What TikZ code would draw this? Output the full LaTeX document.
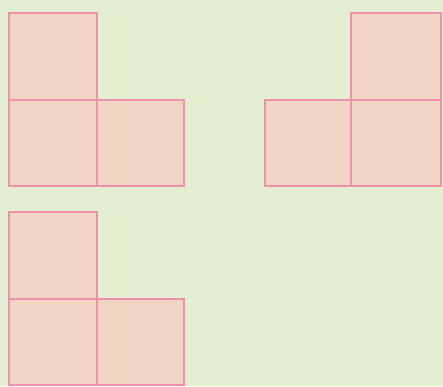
\documentclass[tikz,border=0pt]{standalone}
\definecolor{bgc}{RGB}{228,238,208}
\definecolor{tilefill}{RGB}{240,214,194}
\definecolor{tileline}{RGB}{238,145,175}
\begin{document}
\begin{tikzpicture}[x=1pt,y=-1pt,
  tile/.style={fill=tilefill,draw=tileline,line width=2pt}]
\fill[bgc] (0,0) rectangle (443,386);
\useasboundingbox (0,0) rectangle (443,386);
% figure 1 (top left)
\draw[tile] (9,13) rectangle (97,100);
\draw[tile] (9,100) rectangle (97,186);
\draw[tile] (97,100) rectangle (184,186);
% figure 2 (top right)
\draw[tile] (351,13) rectangle (441,100);
\draw[tile] (265,100) rectangle (351,186);
\draw[tile] (351,100) rectangle (441,186);
% figure 3 (bottom left)
\draw[tile] (9,212) rectangle (97,299);
\draw[tile] (9,299) rectangle (97,385);
\draw[tile] (97,299) rectangle (184,385);
\end{tikzpicture}
\end{document}
